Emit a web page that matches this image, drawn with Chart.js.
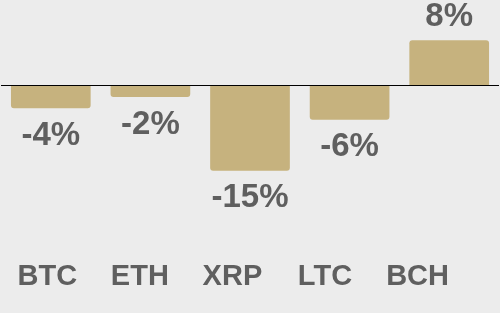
<!DOCTYPE html>
<html>
<head>
<meta charset="utf-8">
<script src="https://cdn.jsdelivr.net/npm/chart.js@4.4.1/dist/chart.umd.min.js"></script>
<style>
  html, body { margin: 0; padding: 0; background: #ececec; }
  canvas { display: block; }
</style>
</head>
<body>
<canvas id="cambioChart" width="500" height="313"></canvas>
<script>
// datos del grafico
const monedas = ["BTC", "ETH", "XRP", "LTC", "BCH"];
const cambios = [-4, -2, -15, -6, 8];

const colorBarra = "#c6b27e";
const colorTexto = "#5f5f5f";
const fuente = "'Liberation Sans', Arial, sans-serif";

// etiquetas de valor encima / debajo de cada barra
const etiquetasValor = {
    id: "etiquetasValor",
    afterDatasetsDraw(chart) {
        const ctx = chart.ctx;
        const meta = chart.getDatasetMeta(0);
        ctx.save();
        ctx.font = "bold 33px " + fuente;
        ctx.fillStyle = colorTexto;
        ctx.textAlign = "center";
        ctx.textBaseline = "middle";
        meta.data.forEach((bar, i) => {
            const v = cambios[i];
            const y = v < 0 ? bar.y + 27.5 : bar.y - 23;
            ctx.fillText(v + "%", bar.x, y);
        });
        ctx.restore();
    }
};

const ctx = document.getElementById("cambioChart").getContext("2d");

new Chart(ctx, {
    type: "bar",
    data: {
        labels: monedas,
        datasets: [{
            data: cambios,
            backgroundColor: colorBarra,
            borderRadius: 3,
            barPercentage: 0.8,
            categoryPercentage: 1.0
        }]
    },
    options: {
        responsive: false,
        animation: false,
        layout: { padding: { left: 1, right: 1, top: 0, bottom: 7 } },
        plugins: {
            legend: { display: false },
            tooltip: { enabled: false }
        },
        scales: {
            x: { display: false },
            // eje aparte solo para los nombres de las monedas
            xNombres: {
                type: "linear",
                position: "bottom",
                offset: false,
                min: -0.5,
                max: 4.88,
                grid: { display: false, drawTicks: false, offset: false },
                border: { display: false },
                afterBuildTicks: s => { s.ticks = monedas.map((_, i) => ({ value: i })); },
                ticks: {
                    padding: 12,
                    color: colorTexto,
                    font: { family: fuente, size: 29, weight: "bold" },
                    callback: v => monedas[v] ?? ""
                }
            },
            y: {
                min: -28.5,
                max: 15.1,
                border: { display: false },
                grid: {
                    drawTicks: false,
                    lineWidth: 1,
                    color: c => c.tick && c.tick.value === 0 ? "#000000" : "rgba(0,0,0,0)"
                },
                ticks: { display: false, stepSize: 5 }
            }
        }
    },
    plugins: [etiquetasValor]
});
</script>
</body>
</html>
